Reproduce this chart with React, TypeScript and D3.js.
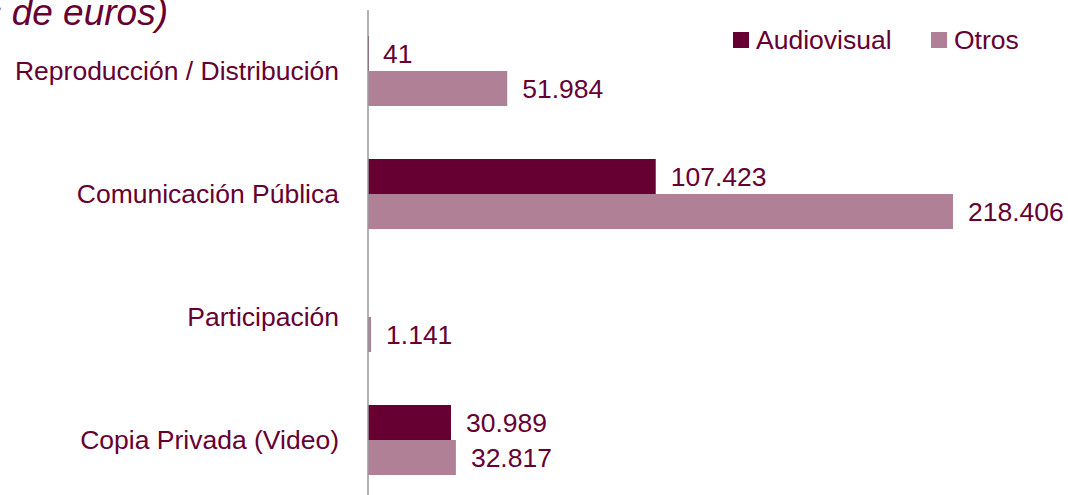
import { useEffect, useRef } from 'react'
import * as d3 from 'd3'

const categories = ['Reproducción / Distribución', 'Comunicación Pública', 'Participación', 'Copia Privada (Video)']
const seriesNames = ['Audiovisual', 'Otros']
const audiovisual: (number | null)[] = [41, 107423, null, 30989]
const otros: (number | null)[] = [51984, 218406, 1141, 32817]

const colors = ['#660033', '#b08097']
const textColor = '#660033'
const font = '"Liberation Sans", Arial, sans-serif'
const fontSize = 26.5

const Chart = () => {
    const ref = useRef<SVGSVGElement | null>(null)

    useEffect(() => {
        if (!ref.current) return
        const width = 1068
        const height = 495

        const svg = d3.select(ref.current)
        svg.selectAll('*').remove()
        svg.attr('width', width).attr('height', height)

        const x = d3.scaleLinear().domain([0, 250000]).range([368, 1037.6])
        const y = d3.scaleBand().domain(categories).range([9.5, 501.5])
        const barH = 35

        const fmt = d3.formatLocale({ decimal: ',', thousands: '.', grouping: [3], currency: ['', '€'] }).format(',d')

        // title, cut off on the left as in the original
        svg.append('text')
            .attr('x', 168)
            .attr('y', 25)
            .attr('text-anchor', 'end')
            .attr('font-family', font)
            .attr('font-style', 'italic')
            .attr('font-size', 37)
            .attr('fill', textColor)
            .text('(Miles de euros)')

        const series = [audiovisual, otros]
        series.forEach((vals, si) => {
            const g = svg.append('g')
            categories.forEach((c, i) => {
                const v = vals[i]
                if (v == null) return
                const center = y(c)! + y.bandwidth() / 2
                const top = center - barH + si * barH
                g.append('rect')
                    .attr('x', x(0))
                    .attr('y', top)
                    .attr('width', Math.max(x(v) - x(0), 1))
                    .attr('height', barH)
                    .attr('fill', colors[si])
                g.append('text')
                    .attr('x', x(v) + 15)
                    .attr('y', top + barH / 2 + 9.5)
                    .attr('font-family', font)
                    .attr('font-size', fontSize)
                    .attr('fill', textColor)
                    .text(fmt(v))
            })
        })

        // category labels
        svg.append('g')
            .selectAll('text')
            .data(categories)
            .join('text')
            .attr('x', 339)
            .attr('y', d => y(d)! + y.bandwidth() / 2 + 9)
            .attr('text-anchor', 'end')
            .attr('font-family', font)
            .attr('font-size', fontSize)
            .attr('fill', textColor)
            .text(d => d)

        // axis line
        svg.append('line')
            .attr('x1', x(0))
            .attr('x2', x(0))
            .attr('y1', 10)
            .attr('y2', height)
            .attr('stroke', '#9a9a9a')
            .attr('stroke-width', 1.5)

        // legend
        const legendX = [733, 931]
        const legend = svg.append('g')
        seriesNames.forEach((s, i) => {
            legend.append('rect')
                .attr('x', legendX[i])
                .attr('y', 32)
                .attr('width', 16)
                .attr('height', 16)
                .attr('fill', colors[i])
            legend.append('text')
                .attr('x', legendX[i] + 23)
                .attr('y', 49)
                .attr('font-family', font)
                .attr('font-size', fontSize)
                .attr('fill', textColor)
                .text(s)
        })
    }, [])

    return <svg ref={ref} style={{ position: 'absolute', left: 0, top: 0 }}></svg>
}

export default function App() {
    return <Chart />
}
